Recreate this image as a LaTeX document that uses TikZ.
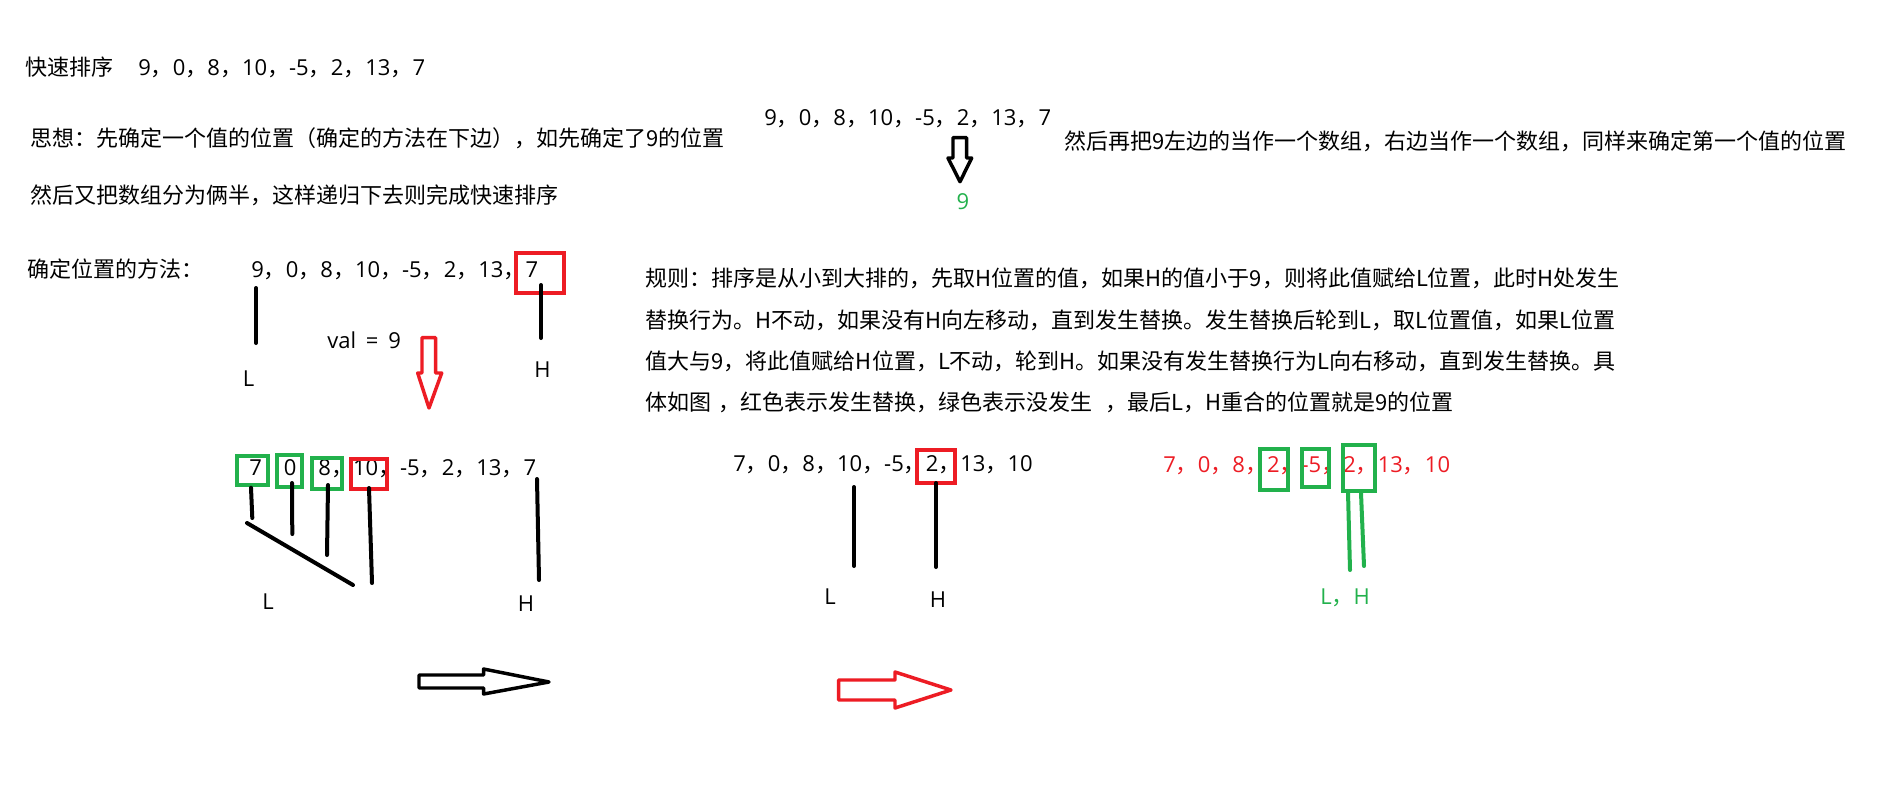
\documentclass[tikz,border=0pt]{standalone}
\usepackage{fontspec}
\setmainfont{Noto Sans CJK SC}
\newfontfamily\latf{Open Sans}
\newcommand\fwc{{\normalfont ，}}
\definecolor{pred}{RGB}{237,28,36}
\definecolor{pgreen}{RGB}{34,177,76}
\begin{document}
\begin{tikzpicture}[x=0.75pt,y=-0.75pt,
  txt/.style={anchor=west,inner sep=0pt,text height=0.85em,text depth=0.15em,font=\fontsize{16.5}{20}\selectfont},
  num/.style={txt,font=\fontsize{16.5}{20}\selectfont\latf},
  lbl/.style={num,anchor=center},
  ptr/.style={line width=3pt,line cap=round},
  rbox/.style={draw=pred,line width=3pt},
  gbox/.style={draw=pgreen,line width=3pt},
  hollow/.style={line width=2.6pt,line join=round,fill=white}]
\useasboundingbox (0,0) rectangle (1895,810);
\fill[white] (0,0) rectangle (1895,810);

% --- header text
\node[txt] (title) at (25,71) {快速排序};
\node[num] (arr0) at (138,71) {9\fwc 0\fwc 8\fwc 10\fwc -5\fwc 2\fwc 13\fwc 7};
\node[txt] (idea1) at (30,141.7) {思想：先确定一个值的位置（确定的方法在下边），如先确定了9的位置};
\node[txt] (idea2) at (30,199) {然后又把数组分为俩半，这样递归下去则完成快速排序};

% --- top right
\node[num] (arr1) at (764,121) {9\fwc 0\fwc 8\fwc 10\fwc -5\fwc 2\fwc 13\fwc 7};
\node[txt] (idea3) at (1064,145) {然后再把9左边的当作一个数组，右边当作一个数组，同样来确定第一个值的位置};
\draw[hollow,draw=black] (953,137.7) -- (966.7,137.7) -- (966.7,158) -- (971.7,158) -- (960,181.7) -- (948,158) -- (953,158) -- cycle;
\node[lbl,text=pgreen] (nine) at (963,205) {9};

% --- method row
\node[txt] (method) at (27,273) {确定位置的方法：};
\node[num] (arr2) at (251,273) {9\fwc 0\fwc 8\fwc 10\fwc -5\fwc 2\fwc 13\fwc 7};
\draw[rbox] (516,253) rectangle (563.5,292.7);
\coordinate (l1a) at (256,288); \coordinate (l1b) at (256,343);
\coordinate (h1a) at (541,285); \coordinate (h1b) at (541,338);
\draw[ptr] (l1a) -- (l1b);
\draw[ptr] (h1a) -- (h1b);
\node[num] (val) at (327,344) {val\hspace{0.45em}=\hspace{0.45em}9};
\node[lbl] (L1) at (248.7,381.7) {L};
\node[lbl] (H1) at (542.5,373.3) {H};
\draw[hollow,draw=pred] (422,337.7) -- (435.7,337.7) -- (435.7,373) -- (441.7,373) -- (429,408) -- (417.7,373) -- (422,373) -- cycle;

% --- rule paragraph
\node[txt] (r1) at (645.5,282) {规则：排序是从小到大排的，先取H位置的值，如果H的值小于9，则将此值赋给L位置，此时H处发生};
\node[txt] (r2) at (645.5,324) {替换行为。H不动，如果没有H向左移动，直到发生替换。发生替换后轮到L，取L位置值，如果L位置};
\node[txt] (r3) at (645.5,365) {值大与9，将此值赋给H位置，L不动，轮到H。如果没有发生替换行为L向右移动，直到发生替换。具};
\node[txt] (r4) at (645.5,406) {体如图\hspace{0.3em}，红色表示发生替换，绿色表示没发生\hspace{0.6em}，最后L，H重合的位置就是9的位置};

% --- step 1
\node[num] (arr3) at (249,471) {7\phantom{\fwc}0\phantom{\fwc}8\fwc 10\fwc -5\fwc 2\fwc 13\fwc 7};
\draw[gbox] (237.3,456) rectangle (268.3,485);
\draw[gbox] (276.7,455) rectangle (301.7,486.7);
\draw[gbox] (311.7,458.3) rectangle (341.7,489.3);
\draw[rbox] (350.7,459) rectangle (387.3,489.3);
\coordinate (p1a) at (251,487.7); \coordinate (p1b) at (252.3,518);
\coordinate (p2a) at (292,483); \coordinate (p2b) at (292.3,534);
\coordinate (p3a) at (328,485); \coordinate (p3b) at (327,555);
\coordinate (p4a) at (369,488); \coordinate (p4b) at (372,583);
\coordinate (d1a) at (247,523); \coordinate (d1b) at (353,585);
\coordinate (p5a) at (537,479); \coordinate (p5b) at (539,580);
\draw[ptr] (p1a) -- (p1b);
\draw[ptr] (p2a) -- (p2b);
\draw[ptr] (p3a) -- (p3b);
\draw[ptr] (p4a) -- (p4b);
\draw[ptr] (d1a) -- (d1b);
\draw[ptr] (p5a) -- (p5b);
\node[lbl] (L2) at (268,605) {L};
\node[lbl] (H2) at (526,607) {H};

% --- step 2
\node[num] (arr4) at (733,467) {7\fwc 0\fwc 8\fwc 10\fwc -5\fwc 2\fwc 13\fwc 10};
\draw[rbox] (916.7,450) rectangle (955,483.3);
\coordinate (l3a) at (854,487); \coordinate (l3b) at (854,566);
\coordinate (h3a) at (936,483); \coordinate (h3b) at (936,567);
\draw[ptr] (l3a) -- (l3b);
\draw[ptr] (h3a) -- (h3b);
\node[lbl] (L3) at (830,600) {L};
\node[lbl] (H3) at (938,603) {H};

% --- step 3
\node[num,text=pred] (arr5) at (1163,468) {7\fwc 0\fwc 8\fwc 2\fwc -5\fwc 2\fwc 13\fwc 10};
\draw[gbox] (1260,449.3) rectangle (1288.3,490);
\draw[gbox] (1302,449.3) rectangle (1329.3,487.3);
\draw[gbox] (1342.7,445) rectangle (1375,490.7);
\coordinate (g1a) at (1348,492); \coordinate (g1b) at (1350,570);
\coordinate (g2a) at (1361,493); \coordinate (g2b) at (1364,566);
\draw[ptr,draw=pgreen] (g1a) -- (g1b);
\draw[ptr,draw=pgreen] (g2a) -- (g2b);
\node[num,text=pgreen] (LH) at (1320,600) {L\fwc H};

% --- horizontal arrows
\draw[hollow,draw=black] (419,675) -- (483.6,675) -- (483.6,669) -- (549,682) -- (483.6,694) -- (483.6,688) -- (419,688) -- cycle;
\draw[hollow,draw=pred] (838.7,680) -- (895,680) -- (895,672) -- (951,690) -- (895,708) -- (895,700) -- (838.7,700) -- cycle;
\end{tikzpicture}
\end{document}
